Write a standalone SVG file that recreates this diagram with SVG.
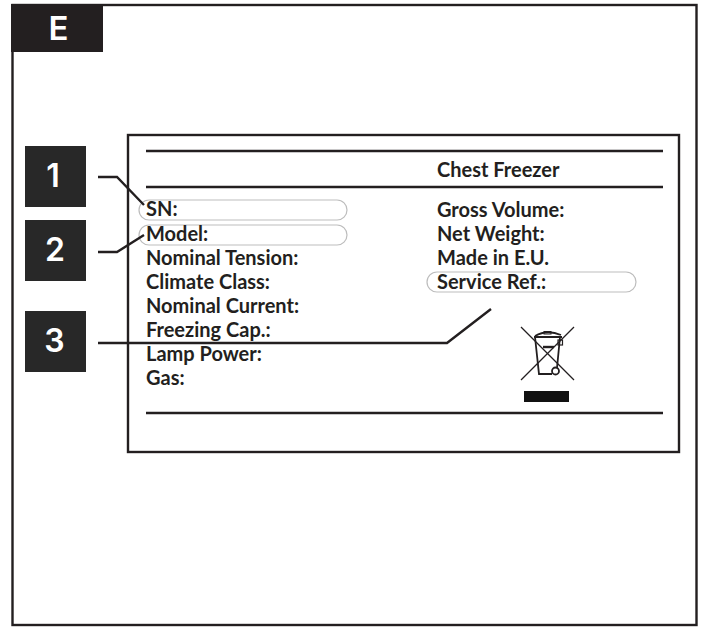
<svg xmlns="http://www.w3.org/2000/svg" width="709" height="628" viewBox="0 0 709 628">
<style>
.t{font-family:Lato,"Liberation Sans",sans-serif;font-weight:700;font-size:20px;fill:#231f20}
.n{font-family:Inter,"Liberation Sans",sans-serif;font-weight:600;font-size:32px;fill:#fff;text-anchor:middle}
.l{fill:none;stroke:#231f20;stroke-width:2.4}
.p{fill:none;stroke:#bdbdbd;stroke-width:1.2}
.b{fill:#282828}
.w{fill:none;stroke:#231f20}
</style>
<rect width="709" height="628" fill="#fff"/>
<g id="frame"><rect x="12.500" y="5" width="684" height="620" class="l"/></g>
<g id="tab-E"><rect x="11" y="4" width="92" height="48" fill="#231f20"/><text x="58.500" y="39.500" class="n" style="font-size:33px">E</text></g>
<g id="plate">
<rect x="128" y="135" width="551" height="317" class="l"/>
<line x1="146" y1="151" x2="663" y2="151" class="l"/>
<line x1="146" y1="187" x2="663" y2="187" class="l"/>
<line x1="146" y1="413" x2="663" y2="413" class="l"/>
</g>
<g id="callouts">
<rect x="139" y="200" width="208" height="20" rx="10" class="p"/>
<rect x="139" y="225" width="208" height="20" rx="10" class="p"/>
<rect x="427" y="272" width="209" height="20" rx="10" class="p"/>
</g>
<g id="labels-left">
<text x="146" y="216" class="t">SN:</text>
<text x="146" y="241" class="t">Model:</text>
<text x="146" y="265" class="t">Nominal Tension:</text>
<text x="146" y="289" class="t">Climate Class:</text>
<text x="146" y="313" class="t">Nominal Current:</text>
<text x="146" y="337" class="t">Freezing Cap.:</text>
<text x="146" y="361" class="t">Lamp Power:</text>
<text x="146" y="385" class="t">Gas:</text>
</g>
<g id="labels-right">
<text x="437" y="177" class="t">Chest Freezer</text>
<text x="437" y="217" class="t">Gross Volume:</text>
<text x="437" y="241" class="t">Net Weight:</text>
<text x="437" y="265" class="t">Made in E.U.</text>
<text x="437" y="289" class="t">Service Ref.:</text>
</g>
<g id="node-1"><rect x="25" y="146" width="61" height="61" class="b"/><text x="53" y="187" class="n">1</text></g>
<g id="node-2"><rect x="25" y="220" width="61" height="61" class="b"/><text x="55" y="261" class="n">2</text></g>
<g id="node-3"><rect x="25" y="311" width="61" height="61" class="b"/><text x="54.500" y="352" class="n">3</text></g>
<g id="connectors">
<polyline points="98,177 117,177 144,205" class="l"/>
<polyline points="98,252 117,252 144,235" class="l"/>
<polyline points="98,343 447,343 491,309" class="l"/>
</g>
<g id="recycle-icon">
<line x1="521" y1="327" x2="574" y2="380" class="w" stroke-width="1.200"/>
<line x1="574" y1="327" x2="521" y2="380" class="w" stroke-width="1.200"/>
<path d="M535,336 Q547,329 561,335 M534,337 H562 M535,337 L539,374 H552 M560,337 L557,368" class="w" stroke-width="1.800"/>
<rect x="544" y="331.500" width="7" height="2.500" class="w" stroke-width="1"/>
<rect x="558" y="340" width="4.500" height="5" class="w" stroke-width="1.200"/>
<circle cx="555.500" cy="371" r="3.500" class="w" stroke-width="1.800"/>
<line x1="543" y1="347" x2="554" y2="347" class="w" stroke-width="2.400"/>
<rect x="524" y="391" width="45" height="11" fill="#111"/>
</g>
</svg>
